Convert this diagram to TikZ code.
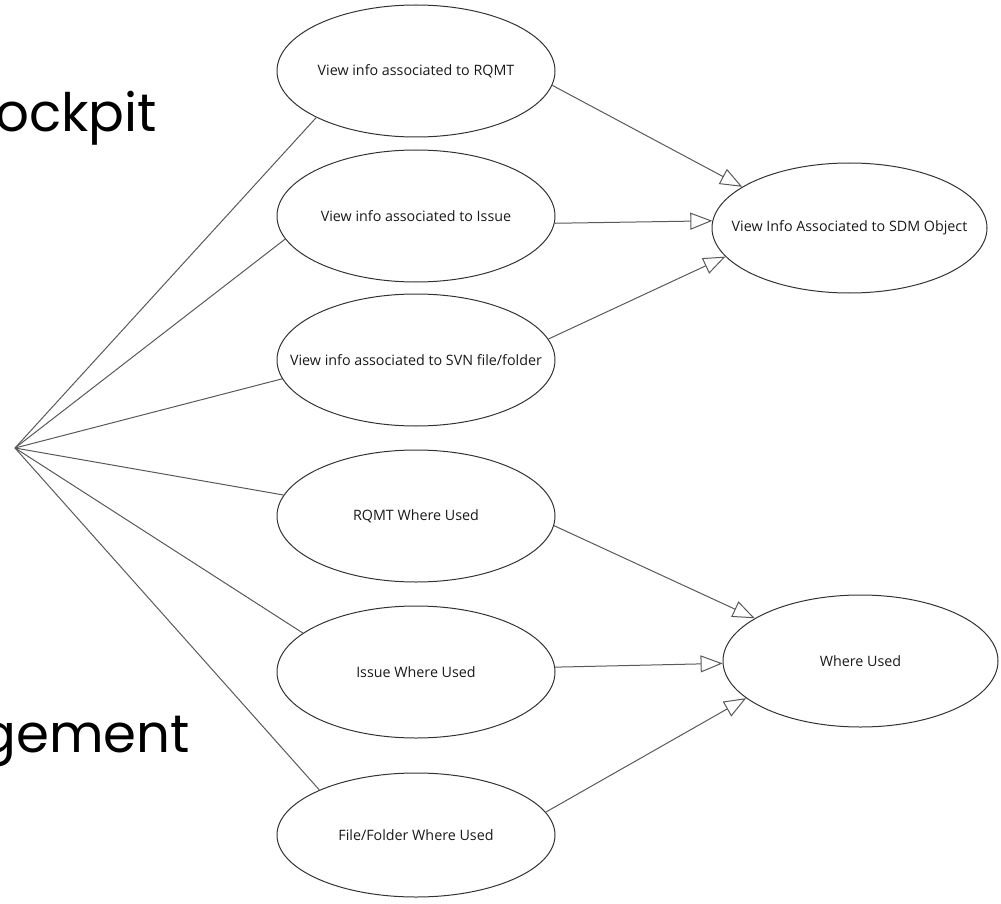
\documentclass[tikz,border=0pt]{standalone}
\usepackage{fontspec}
\setmainfont{Open Sans}
\newfontfamily\titlefont{Poppins}
\usetikzlibrary{shapes,arrows.meta,positioning}

\begin{document}
\begin{tikzpicture}[x=1pt, y=-1pt,
    usecase/.style={ellipse, draw=black!80, line width=1pt, minimum width=278pt, minimum height=132pt,
        inner sep=0pt, font=\fontsize{14.3}{16}\selectfont, text=black!90},
    link/.style={draw=black!65, line width=1pt},
    gen/.style={link, -{Triangle[open, length=22pt, width=17pt]}},
    slidetitle/.style={anchor=base east, inner sep=0pt, font=\titlefont\fontsize{53}{62}\selectfont}]
    \useasboundingbox (0,0) rectangle (1001,904);

    % Slide title behind the diagram
    \node[slidetitle] (titleTop) at (157,132) {ockpit};
    \node[slidetitle] (titleBottom) at (190,752) {gement};

    % Use cases
    \node[usecase] (infoRqmt)  at (416,71)  {\makebox[0pt]{View info associated to RQMT}};
    \node[usecase] (infoIssue) at (416,216) {\makebox[0pt]{View info associated to Issue}};
    \node[usecase] (infoSvn)   at (416,360) {\makebox[0pt]{View info associated to SVN file/folder}};
    \node[usecase] (usedRqmt)  at (416,516) {\makebox[0pt]{RQMT Where Used}};
    \node[usecase] (usedIssue) at (416,672) {\makebox[0pt]{Issue Where Used}};
    \node[usecase, minimum height=124pt] (usedFile) at (416,835) {\makebox[0pt]{File/Folder Where Used}};

    % General use cases
    \node[usecase, minimum width=275pt, minimum height=130pt] (infoSdm)  at (849.5,228) {\makebox[0pt]{View Info Associated to SDM Object}};
    \node[usecase, minimum width=275pt] (whereUsed) at (860.5,661) {\makebox[0pt]{Where Used}};

    % Actor end
    \coordinate (actor) at (15,448);
    \foreach \uc/\ang in {infoRqmt/205, infoIssue/190, infoSvn/188, usedRqmt/171, usedIssue/161, usedFile/155}
        \draw[link] (actor) -- (\uc.\ang);

    % Generalisations
    \draw[gen] (infoRqmt.354.6) -- (infoSdm.159.8);
    \draw[gen] (infoIssue.357.5) -- (infoSdm.177.5);
    \draw[gen] (infoSvn.9.5) -- (infoSdm.193.8);
    \draw[gen] (usedRqmt.356.3) -- (whereUsed.158.4);
    \draw[gen] (usedIssue.2.9) -- (whereUsed.181.7);
    \draw[gen] (usedFile.10.3) -- (whereUsed.198.8);
\end{tikzpicture}
\end{document}
